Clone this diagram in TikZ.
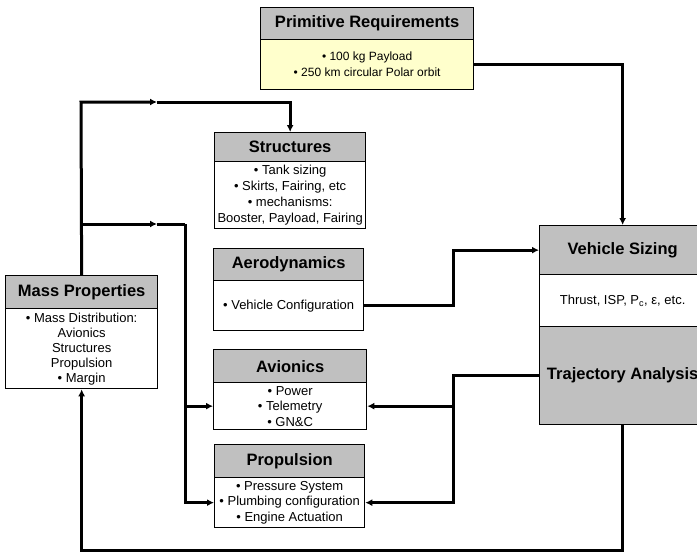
\documentclass[tikz,border=0pt]{standalone}
\usepackage{fontspec}
\setmainfont{Liberation Sans}
\usetikzlibrary{arrows.meta}
\definecolor{hgray}{HTML}{C0C0C0}
\definecolor{pyellow}{HTML}{FFFFCC}
\begin{document}
\begin{tikzpicture}[x=1pt,y=-1pt,
 hdr/.style={draw,fill=hgray,line width=1.3pt,inner sep=0pt,anchor=north west,font=\bfseries\fontsize{16.5}{18}\selectfont},
 bodyb/.style={draw,fill=white,line width=1.3pt,inner sep=0pt,anchor=north west,align=center,font=\fontsize{13}{16}\selectfont},
 conn/.style={line width=3pt,line join=miter},
 tip/.style={-{Latex[length=7pt,width=7pt]}}
]
\useasboundingbox (0,0) rectangle (697,554);

% Primitive requirements
\node[hdr,minimum width=213pt,minimum height=32pt] (primH) at (260,7) {Primitive Requirements};
\node[bodyb,fill=pyellow,minimum width=213pt,minimum height=50pt,font=\fontsize{12}{16}\selectfont] (primB) at (260,39) {• 100 kg Payload\\• 250 km circular Polar orbit};

% Structures
\node[hdr,minimum width=151pt,minimum height=29pt] (strH) at (214,132) {Structures};
\node[bodyb,minimum width=151pt,minimum height=67pt] (strB) at (214,161) {• Tank sizing\\• Skirts, Fairing, etc\\• mechanisms:\\Booster, Payload, Fairing};

% Aerodynamics
\node[hdr,minimum width=150pt,minimum height=32pt] (aeroH) at (213,248) {Aerodynamics};
\node[bodyb,minimum width=150pt,minimum height=50pt] (aeroB) at (213,280) {• Vehicle Configuration};

% Mass properties
\node[hdr,minimum width=152pt,minimum height=33pt] (massH) at (5,275) {Mass Properties};
\node[bodyb,minimum width=152pt,minimum height=80pt,font=\fontsize{13}{15}\selectfont] (massB) at (5,308) {• Mass Distribution:\\Avionics\\Structures\\Propulsion\\• Margin};

% Avionics
\node[hdr,minimum width=153pt,minimum height=33pt] (avH) at (213,349) {Avionics};
\node[bodyb,minimum width=153pt,minimum height=47pt,font=\fontsize{13}{15.5}\selectfont] (avB) at (213,382) {• Power\\• Telemetry\\• GN\&C};

% Propulsion
\node[hdr,minimum width=150pt,minimum height=33pt] (propH) at (214,444) {Propulsion};
\node[bodyb,minimum width=150pt,minimum height=50pt,font=\fontsize{13}{15.5}\selectfont] (propB) at (214,477) {• Pressure System\\• Plumbing configuration\\• Engine Actuation};

% Vehicle sizing
\node[hdr,minimum width=166pt,minimum height=49pt] (vsH) at (539,225) {Vehicle Sizing};
\node[bodyb,minimum width=166pt,minimum height=52pt] (vsB) at (539,274) {Thrust, ISP, P\textsubscript{c}, ε, etc.};
\node[hdr,minimum width=166pt,minimum height=98pt] (traj) at (539,326) {Trajectory Analysis};

% junction coordinates
\coordinate (j1) at (81,102);
\coordinate (m1) at (157,102);
\coordinate (j2) at (81,224);
\coordinate (m2) at (157,224);
\coordinate (j3) at (185,224);
\coordinate (k1) at (453,0);
\coordinate (bot) at (0,550);

% connectors
\draw[conn,tip] (massH.north) -- (j1) -- (m1);
\draw[conn,tip] (m1) -| (strH.north);
\draw[conn,tip] (j2) -- (m2);
\draw[conn] (m2) -- (j3);
\draw[conn,tip] (j3) |- (avB.west);
\draw[conn,tip] (j3) |- (propB.west);
\draw[conn,tip] (aeroB.east) -- (aeroB.east -| k1) |- (vsH.west);
\draw[conn,tip] (traj.west) -| (k1 |- propB.east) -- (propB.east);
\draw[conn,tip] (k1 |- avB.east) -- (avB.east);
\draw[conn,tip] (primB.east) -| (vsH.north);
\draw[conn,tip] (traj.south) -- (traj.south |- bot) -| (massB.south);
\end{tikzpicture}
\end{document}
